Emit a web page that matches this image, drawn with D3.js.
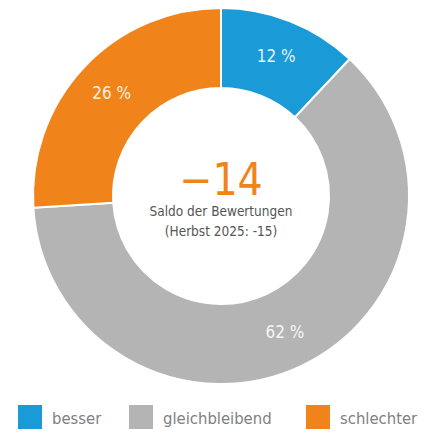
<!DOCTYPE html>
<html><head><meta charset="utf-8">
<script src="https://cdn.jsdelivr.net/npm/d3@7"></script>
<style>body{margin:0;background:#fff}svg{display:block}</style>
</head><body>
<script>
const categories = ["besser", "gleichbleibend", "schlechter"];
const values = [12, 62, 26];
const labels = ["12 %", "62 %", "26 %"];
const colors = ["#1a9ad6", "#b4b4b4", "#f0841a"];
const saldo = "−14";
const subtitle1 = "Saldo der Bewertungen";
const subtitle2 = "(Herbst 2025: -15)";

const W = 438, H = 434;
const font = "'DejaVu Sans Condensed', 'DejaVu Sans', sans-serif";
const svg = d3.select("body").append("svg").attr("width", W).attr("height", H);
const cx = 221, cy = 196, R = 188, r = 108;
const g = svg.append("g").attr("transform", `translate(${cx},${cy})`);
const pie = d3.pie().sort(null).value(d => d)(values);
const arc = d3.arc().innerRadius(r).outerRadius(R);
g.selectAll("path").data(pie).join("path")
  .attr("d", arc).attr("fill", (d,i) => colors[i])
  .attr("stroke", "#fff").attr("stroke-width", 2);
const lab = d3.arc().innerRadius(150).outerRadius(150);
g.selectAll("text.lab").data(pie).join("text").attr("class","lab")
  .attr("transform", d => `translate(${lab.centroid(d)})`)
  .attr("text-anchor","middle").attr("dy","0.35em")
  .attr("font-family", font)
  .attr("font-size", 17).attr("fill","#fff").attr("fill-opacity",0.9)
  .text((d,i) => labels[i]);

g.append("text").attr("x", 0).attr("y", -1).attr("text-anchor","middle")
  .attr("font-family", font).attr("font-weight", 300)
  .attr("font-size", 44).attr("fill", colors[2]).text(saldo);
g.append("text").attr("x", 0).attr("y", 20).attr("text-anchor","middle")
  .attr("font-family", font)
  .attr("font-size", 13.5).attr("fill","#555").text(subtitle1);
g.append("text").attr("x", 0).attr("y", 40).attr("text-anchor","middle")
  .attr("font-family", font)
  .attr("font-size", 13.5).attr("fill","#555").text(subtitle2);

const legX = [18, 129, 306];
const lg = svg.append("g");
categories.forEach((c,i) => {
  lg.append("rect").attr("x", legX[i]).attr("y", 405).attr("width", 24).attr("height", 24).attr("fill", colors[i]);
  lg.append("text").attr("x", legX[i] + 34).attr("y", 424)
    .attr("font-family", font)
    .attr("font-size", 16.5).attr("fill","#808080").text(c);
});
</script>
</body></html>
